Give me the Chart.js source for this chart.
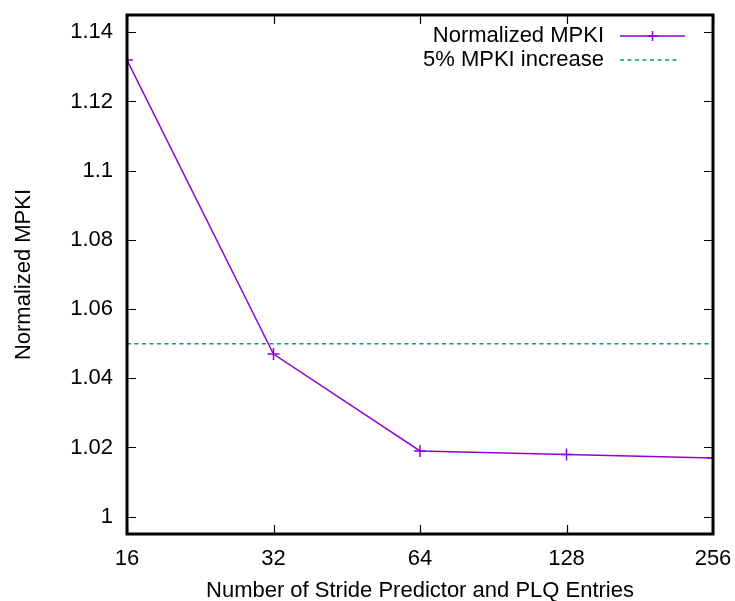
<!DOCTYPE html>
<html>
<head>
<meta charset="utf-8">
<script src="https://cdn.jsdelivr.net/npm/chart.js@4"></script>
<style>
  html, body { margin: 0; padding: 0; background: #fff; }
  #wrap { width: 735px; height: 601px; }
</style>
</head>
<body>
<div id="wrap"><canvas id="mpkiChart" width="735" height="601"></canvas></div>
<script>
// data
const entries = [16, 32, 64, 128, 256];
const normMpki = [1.132, 1.047, 1.019, 1.018, 1.017];
const thresholdY = 1.05;
const xTicks = [16, 32, 64, 128, 256];
const yTicks = [1, 1.02, 1.04, 1.06, 1.08, 1.1, 1.12, 1.14];

const FONT = '"Liberation Sans", Arial, sans-serif';
const PURPLE = '#9400d3';
const GREEN = '#009e73';

// gnuplot-ish frame, inward ticks on all four sides, and the key
const framePlugin = {
    id: 'frame',
    afterDatasetsDraw(chart) {
        const { ctx, chartArea: a, scales } = chart;
        ctx.save();
        ctx.strokeStyle = '#000';
        ctx.lineWidth = 1.2;
        ctx.beginPath();
        scales.y.ticks.forEach(t => {
            const py = Math.round(scales.y.getPixelForValue(t.value)) + 0.5;
            ctx.moveTo(a.left, py); ctx.lineTo(a.left + 9, py);
            ctx.moveTo(a.right, py); ctx.lineTo(a.right - 9, py);
        });
        scales.x.ticks.forEach(t => {
            const px = Math.round(scales.x.getPixelForValue(t.value)) + 0.5;
            ctx.moveTo(px, a.bottom); ctx.lineTo(px, a.bottom - 9);
            ctx.moveTo(px, a.top); ctx.lineTo(px, a.top + 9);
        });
        ctx.stroke();
        ctx.lineWidth = 3;
        ctx.strokeRect(a.left, a.top, a.right - a.left, a.bottom - a.top);

        // key
        ctx.font = '22px ' + FONT;
        ctx.textAlign = 'right';
        ctx.textBaseline = 'middle';
        ctx.fillStyle = '#000';
        const textRight = a.right - 109;
        const lx0 = a.right - 93, lx1 = a.right - 28;
        const rows = [a.top + 21, a.top + 45];
        chart.data.datasets.forEach((ds, i) => {
            const y = rows[i];
            ctx.fillText(ds.label, textRight, y);
            ctx.strokeStyle = ds.borderColor;
            ctx.lineWidth = ds.borderWidth;
            ctx.setLineDash(ds.borderDash || []);
            ctx.beginPath();
            ctx.moveTo(lx0, y); ctx.lineTo(i === 1 ? lx1 - 5 : lx1, y);
            ctx.stroke();
            ctx.setLineDash([]);
            if (ds.pointRadius) {
                const mx = (lx0 + lx1) / 2;
                ctx.beginPath();
                ctx.moveTo(mx - 5, y); ctx.lineTo(mx + 5, y);
                ctx.moveTo(mx, y - 5); ctx.lineTo(mx, y + 5);
                ctx.stroke();
            }
        });
        ctx.restore();
    }
};

new Chart(document.getElementById('mpkiChart'), {
    type: 'line',
    data: {
        datasets: [
            {
                label: 'Normalized MPKI',
                data: entries.map((e, i) => ({ x: e, y: normMpki[i] })),
                borderColor: PURPLE,
                backgroundColor: PURPLE,
                borderWidth: 1.5,
                pointStyle: 'cross',
                pointRadius: 6,
                pointBorderWidth: 1.5,
                tension: 0
            },
            {
                label: '5% MPKI increase',
                data: [{ x: xTicks[0], y: thresholdY }, { x: xTicks[xTicks.length - 1], y: thresholdY }],
                borderColor: GREEN,
                borderWidth: 1.5,
                borderDash: [4, 3.5],
                pointRadius: 0
            }
        ]
    },
    options: {
        responsive: false,
        animation: false,
        layout: { padding: { top: 15, right: 22, left: 0, bottom: 0 } },
        plugins: { legend: { display: false }, tooltip: { enabled: false } },
        scales: {
            x: {
                type: 'logarithmic',
                min: 16,
                max: 256,
                afterBuildTicks: s => { s.ticks = xTicks.map(v => ({ value: v })); },
                afterFit: s => { s.height = 67; s.paddingLeft = 0; s.paddingRight = 0; },
                grid: { display: false, drawTicks: false },
                border: { display: false },
                ticks: {
                    color: '#000',
                    font: { family: FONT, size: 22 },
                    padding: 12,
                    autoSkip: false,
                    maxRotation: 0,
                    callback: v => String(v)
                },
                title: {
                    display: true,
                    text: 'Number of Stride Predictor and PLQ Entries',
                    color: '#000',
                    font: { family: FONT, size: 22 },
                    padding: { top: 8, bottom: -3 }
                }
            },
            y: {
                min: 0.995,
                max: 1.145,
                afterBuildTicks: s => { s.ticks = yTicks.map(v => ({ value: v })); },
                afterFit: s => { s.width = 127; s.paddingTop = 0; s.paddingBottom = 0; },
                grid: { display: false, drawTicks: false },
                border: { display: false },
                ticks: {
                    color: '#000',
                    font: { family: FONT, size: 22 },
                    padding: 14,
                    callback: v => String(+v.toFixed(2))
                },
                title: {
                    display: true,
                    text: 'Normalized MPKI',
                    color: '#000',
                    font: { family: FONT, size: 22 },
                    padding: { top: 11, bottom: 0 }
                }
            }
        }
    },
    plugins: [framePlugin]
});
</script>
</body>
</html>
